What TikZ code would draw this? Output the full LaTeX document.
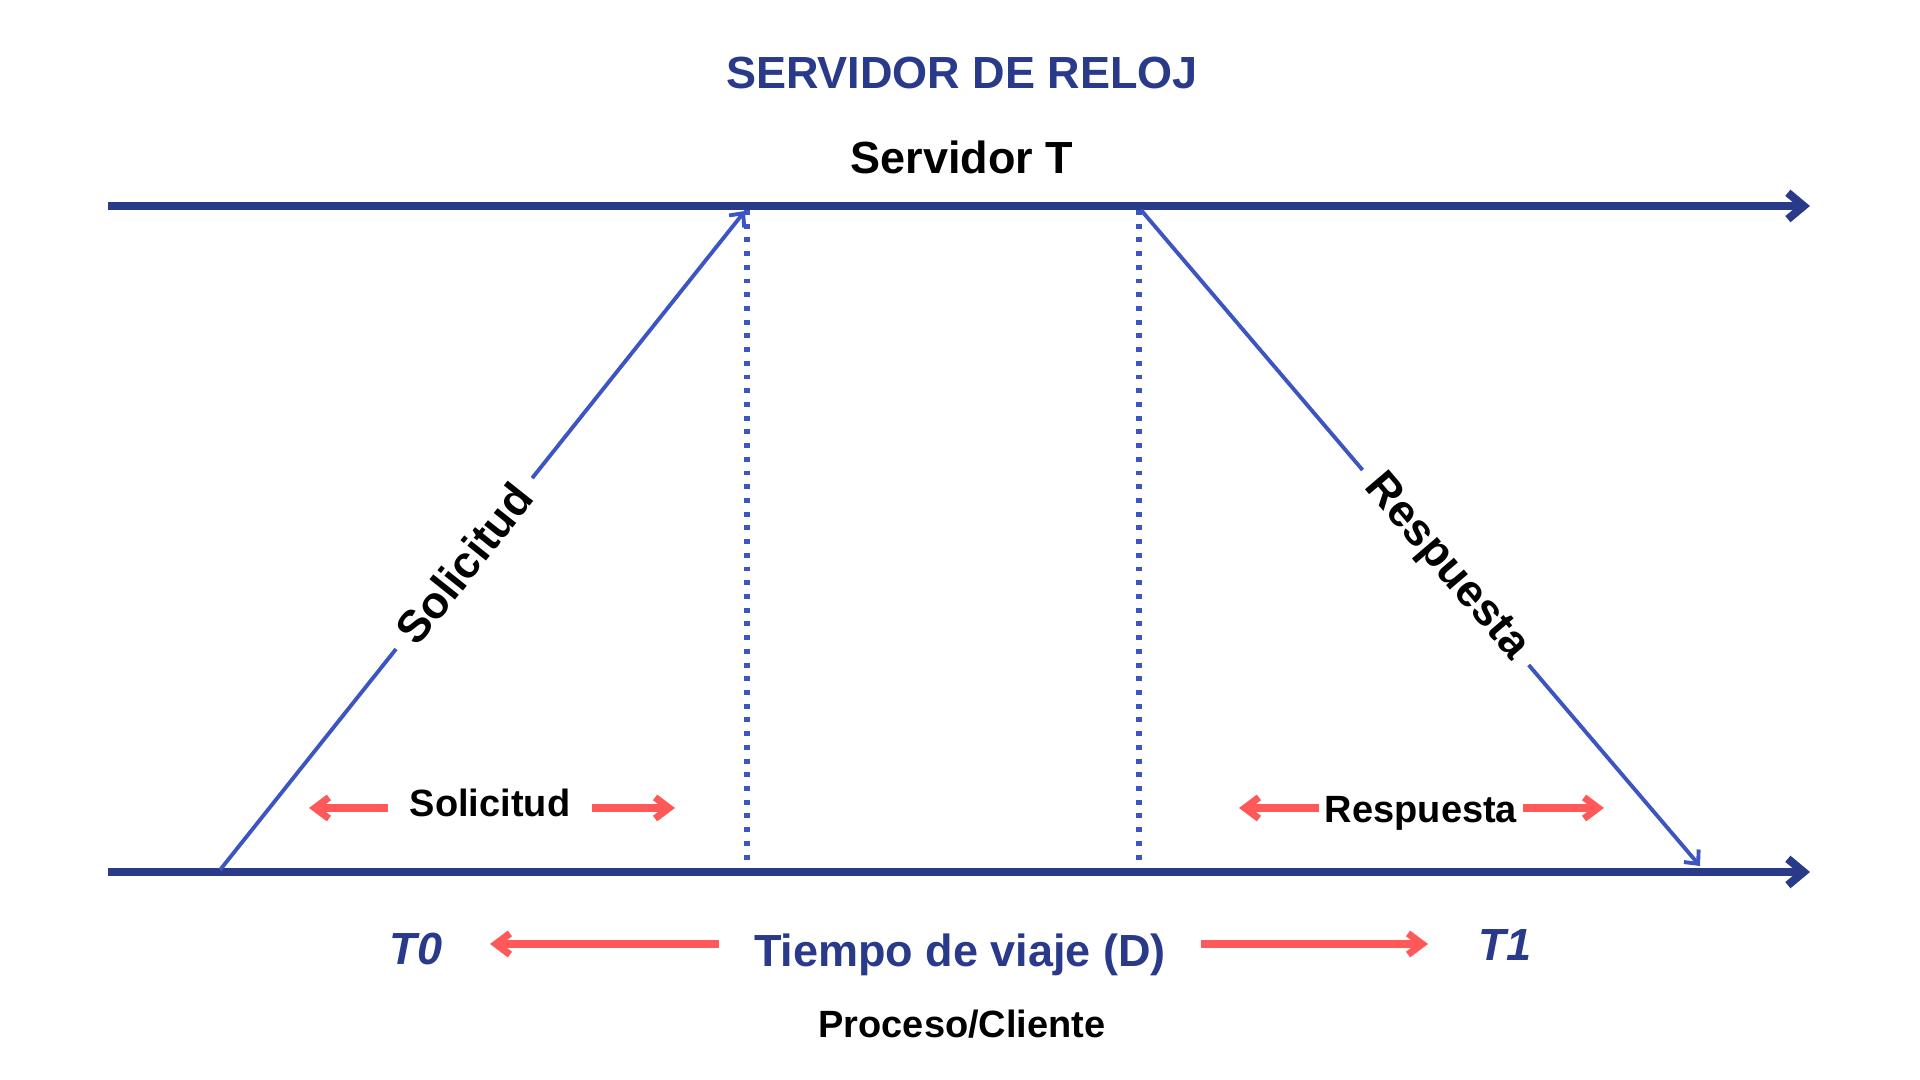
\documentclass[tikz,border=0pt]{standalone}
\usepackage{fontspec}
\setmainfont{Liberation Sans}
\usetikzlibrary{arrows.meta}
\definecolor{navy}{RGB}{41,58,139}
\definecolor{msgblue}{RGB}{61,85,194}
\definecolor{salmon}{RGB}{255,88,88}

\begin{document}
\begin{tikzpicture}[x=0.01cm,y=-0.01cm,
    axis/.style = {navy,line width=2.3pt,-{Straight Barb[length=4.5pt,width=7.5pt]}},
    msg/.style = {msgblue,line width=1.1pt,-{Straight Barb[length=3pt,width=5.5pt]}},
    guide/.style = {msgblue,line width=1.5pt,dash pattern=on 1.4pt off 2.5pt},
    span/.style = {salmon,line width=2pt,-{Straight Barb[length=4pt,width=6pt]}},
    big/.style = {font=\bfseries\fontsize{12.8}{15}\selectfont},
    small/.style = {font=\bfseries\fontsize{10.8}{13}\selectfont},
    tag/.style = {big,sloped,text=black,fill=white,inner sep=4pt}]
    \useasboundingbox (0,0) rectangle (1920,1080);

    \node [big,navy] (title) at (962,73) {SERVIDOR DE RELOJ};
    \node [big] (server) at (962,157) {Servidor T};

    % time lines
    \coordinate (s0) at (108,206);
    \coordinate (s1) at (1810,206);
    \coordinate (c0) at (108,872);
    \coordinate (c1) at (1810,872);

    \coordinate (g0) at (747,210);
    \coordinate (g1) at (747,867);
    \coordinate (h0) at (1139,210);
    \coordinate (h1) at (1139,867);
    \draw[guide] (g0) -- (g1);
    \draw[guide] (h0) -- (h1);

    \draw[axis] (s0) -- (s1);
    \draw[axis] (c0) -- (c1);

    % messages
    \coordinate (req0) at (220,870);
    \coordinate (req1) at (745,211);
    \coordinate (res0) at (1141,210);
    \coordinate (res1) at (1700,866);
    \draw[msg] (req0) -- node[tag,pos=0.465] (reqtag) {Solicitud} (req1);
    \draw[msg] (res0) -- node[tag,pos=0.545] (restag) {Respuesta} (res1);

    % spans
    \node [small,inner xsep=6pt] (reqspan) at (490,803) {Solicitud};
    \coordinate (reqL) at (309,808);
    \coordinate (reqR) at (675,808);
    \draw[span] (reqspan.west |- reqL) -- (reqL);
    \draw[span] (reqspan.east |- reqR) -- (reqR);

    \node [small,inner xsep=1.4pt] (resspan) at (1421,813) {Respuesta};
    \coordinate (resL) at (1239,808);
    \coordinate (resR) at (1604,808);
    \draw[span] (resspan.west |- resL) -- (resL);
    \draw[span] (resspan.east |- resR) -- (resR);

    \node [big,navy,inner xsep=9.7pt] (trip) at (960,955) {Tiempo de viaje (D)};
    \coordinate (tripL) at (490,944);
    \coordinate (tripR) at (1428,944);
    \draw[span] (trip.west |- tripL) -- (tripL);
    \draw[span] (trip.east |- tripR) -- (tripR);

    \node [big,navy,font=\bfseries\itshape\fontsize{12.8}{15}\selectfont] (t0) at (416,949) {T0};
    \node [big,navy,font=\bfseries\itshape\fontsize{12.8}{15}\selectfont] (t1) at (1505,945) {T1};

    \node [small] (client) at (962,1024) {Proceso/Cliente};
\end{tikzpicture}
\end{document}
